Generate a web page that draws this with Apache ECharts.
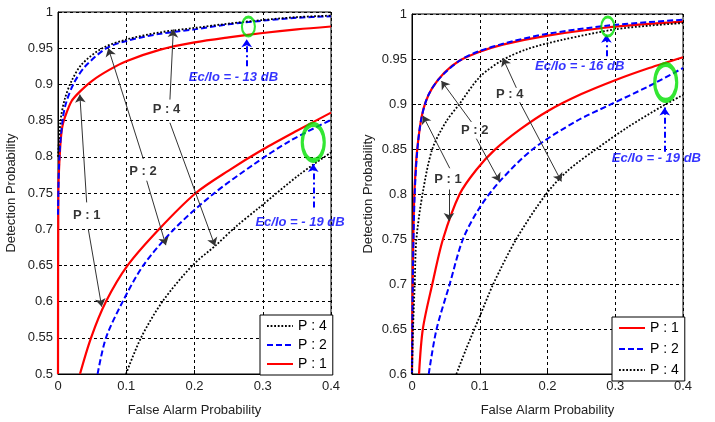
<!DOCTYPE html>
<html>
<head>
<meta charset="utf-8">
<script src="https://cdn.jsdelivr.net/npm/echarts@6/dist/echarts.min.js"></script>
<style>
  html, body { margin: 0; padding: 0; background: #fff; }
  #chart { width: 715px; height: 422px; }
</style>
</head>
<body>
<div id="chart"></div>
<script>
// left panel: Ec/Io = -13 dB (upper) and -19 dB (lower)
var redL13 = [[0,0.5],[0.0005,0.75],[0.003,0.81],[0.006,0.84],[0.0103,0.855],[0.02,0.877],[0.032,0.89],[0.05,0.905],[0.075,0.92],[0.1,0.932],[0.15,0.948],[0.2,0.958],[0.25,0.965],[0.3,0.971],[0.35,0.976],[0.4,0.98]];
var blueL13 = [[0,0.72],[0.002,0.8],[0.0069,0.852],[0.012,0.875],[0.0234,0.902],[0.04,0.925],[0.071,0.95],[0.1,0.96],[0.15,0.97],[0.2,0.976],[0.25,0.983],[0.3,0.988],[0.35,0.992],[0.4,0.994]];
var blackL13 = [[0,0.8],[0.004,0.852],[0.01,0.88],[0.02,0.905],[0.035,0.928],[0.065,0.95],[0.1,0.962],[0.15,0.972],[0.2,0.978],[0.25,0.984],[0.3,0.989],[0.35,0.993],[0.4,0.995]];
var redL19 = [[0.0322,0.5],[0.0484,0.55],[0.0703,0.6],[0.102,0.65],[0.148,0.7],[0.202,0.75],[0.25,0.781],[0.3,0.81],[0.35,0.836],[0.4,0.861]];
var blueL19 = [[0.058,0.5],[0.0703,0.55],[0.0948,0.6],[0.125,0.65],[0.17,0.7],[0.2266,0.748],[0.286,0.789],[0.34,0.822],[0.4,0.851]];
var blackL19 = [[0.0996,0.5],[0.1216,0.55],[0.153,0.6],[0.197,0.65],[0.2315,0.678],[0.26,0.703],[0.295,0.73],[0.3546,0.776],[0.4,0.806]];

// right panel: Ec/Io = -16 dB (upper) and -19 dB (lower)
var redR16 = [[0,0.6],[0.001,0.7],[0.003,0.79],[0.006,0.835],[0.0089,0.858],[0.014,0.885],[0.02,0.902],[0.03,0.918],[0.048,0.935],[0.07,0.948],[0.1,0.958],[0.134,0.966],[0.2,0.976],[0.287,0.985],[0.35,0.989],[0.4,0.9915]];
var blueR16 = [[0,0.6],[0.0015,0.72],[0.004,0.8],[0.008,0.85],[0.0139,0.884],[0.0236,0.909],[0.04,0.928],[0.07,0.948],[0.1,0.959],[0.15,0.97],[0.2,0.978],[0.287,0.987],[0.35,0.991],[0.4,0.9937]];
var blackR16 = [[0,0.6],[0.0015,0.649],[0.004,0.7],[0.0065,0.75],[0.0162,0.803],[0.03,0.85],[0.05,0.88],[0.07,0.9],[0.1,0.93],[0.134,0.949],[0.17,0.961],[0.22,0.971],[0.3,0.983],[0.35,0.987],[0.4,0.99]];
var redR19 = [[0.0104,0.6],[0.016,0.65],[0.03,0.7],[0.0458,0.75],[0.0704,0.8],[0.095,0.827],[0.122,0.849],[0.16,0.872],[0.2,0.892],[0.25,0.911],[0.3017,0.927],[0.35,0.94],[0.4,0.952]];
var blueR19 = [[0.0247,0.6],[0.036,0.649],[0.0557,0.7],[0.0753,0.75],[0.1,0.785],[0.1294,0.814],[0.1786,0.85],[0.2427,0.881],[0.2918,0.899],[0.35,0.92],[0.4,0.94]];
var blackR19 = [[0.0655,0.6],[0.08,0.628],[0.1,0.664],[0.12,0.7],[0.154,0.75],[0.198,0.8],[0.23,0.826],[0.272,0.85],[0.32,0.875],[0.3705,0.898],[0.4,0.91]];

// annotations (data coords)
var pLabelsL = [[0.159,0.865,'P : 4'],[0.1245,0.78,'P : 2'],[0.042,0.719,'P : 1']];
var pArrowsL = [[0.164,0.879,0.169,0.976],[0.164,0.847,0.23,0.677],[0.125,0.797,0.0737,0.95],[0.13,0.767,0.158,0.678],[0.042,0.737,0.032,0.886],[0.0444,0.7,0.064,0.593]];
var ecLabelsL = [[0.257,0.909,'Ec/Io = - 13 dB'],[0.3546,0.709,'Ec/Io = - 19 dB']];
var ecArrowsL = [[0.2765,0.925,0.2765,0.9625],[0.374,0.73,0.374,0.79]];
var ringsL = [[0.279,0.98,'small'],[0.374,0.82,'big']];

var pLabelsR = [[0.1442,0.911,'P : 4'],[0.0925,0.871,'P : 2'],[0.0531,0.816,'P : 1']];
var pArrowsR = [[0.154,0.918,0.134,0.951],[0.159,0.902,0.2205,0.814],[0.0877,0.88,0.0434,0.9256],[0.095,0.8615,0.1294,0.814],[0.0557,0.8286,0.0162,0.887],[0.0546,0.805,0.0546,0.77]];
var ecLabelsR = [[0.2475,0.942,'Ec/Io = - 16 dB'],[0.3607,0.8396,'Ec/Io = - 19 dB']];
var ecArrowsR = [[0.287,0.953,0.287,0.977],[0.373,0.847,0.373,0.896]];
var ringsR = [[0.289,0.986,'small'],[0.3745,0.924,'big']];

var legendL = ['P : 4', 'P : 2', 'P : 1'];
var legendR = ['P : 1', 'P : 2', 'P : 4'];

var FONT = 'Liberation Sans, Arial, sans-serif';
var styles = {
    'P : 1': { color: '#ff0000', width: 2.2, type: 'solid' },
    'P : 2': { color: '#0000ff', width: 2, type: [6, 3] },
    'P : 4': { color: '#000000', width: 1.8, type: [1.8, 1.8] }
};

function curve(name, data, idx) {
    return {
        name: name, type: 'line', xAxisIndex: idx, yAxisIndex: idx,
        data: data, symbol: 'none', smooth: 0.3,
        color: styles[name].color, lineStyle: styles[name], z: 3, silent: true
    };
}

function textSeries(labels, idx, color, italic) {
    return {
        type: 'scatter', xAxisIndex: idx, yAxisIndex: idx, silent: true, z: 6,
        symbolSize: 1, itemStyle: { color: 'transparent' },
        data: labels.map(function(l) { return { value: [l[0], l[1]], name: l[2] }; }),
        label: {
            show: true, position: 'inside', formatter: '{b}', color: color,
            fontFamily: FONT, fontSize: 13, fontWeight: 'bold',
            fontStyle: italic ? 'italic' : 'normal'
        }
    };
}

function arrowSeries(arrows, idx, lineStyle) {
    return {
        type: 'scatter', xAxisIndex: idx, yAxisIndex: idx, silent: true, z: 5, data: [],
        markLine: {
            silent: true, symbol: ['none', 'arrow'], symbolSize: 8,
            label: { show: false }, lineStyle: lineStyle,
            data: arrows.map(function(a) { return [{ coord: [a[0], a[1]] }, { coord: [a[2], a[3]] }]; })
        }
    };
}

function ringSeries(rings, idx) {
    return {
        type: 'scatter', xAxisIndex: idx, yAxisIndex: idx, silent: true, z: 7,
        data: rings.map(function(r) {
            var big = r[2] === 'big';
            return {
                value: [r[0], r[1]],
                symbolSize: big ? [22, 36] : [13, 19],
                itemStyle: { color: 'transparent', borderColor: '#00e000', borderWidth: big ? 4 : 2.5 }
            };
        })
    };
}

function xAxis(idx) {
    return {
        gridIndex: idx, type: 'value', min: 0, max: 0.4, interval: 0.1,
        name: 'False Alarm Probability', nameLocation: 'middle', nameGap: 30,
        nameTextStyle: { color: '#222', fontFamily: FONT, fontSize: 13 },
        axisLine: { show: true, lineStyle: { color: '#000' } },
        axisTick: { show: true, inside: true, length: 4, lineStyle: { color: '#000' } },
        axisLabel: { color: '#222', fontFamily: FONT, fontSize: 13, margin: 6 },
        splitLine: { show: true, lineStyle: { color: '#000', type: [3, 3], width: 1 } }
    };
}

function yAxis(idx, min, gap) {
    return {
        gridIndex: idx, type: 'value', min: min, max: 1, interval: 0.05,
        name: 'Detection Probability', nameLocation: 'middle', nameGap: gap,
        nameTextStyle: { color: '#222', fontFamily: FONT, fontSize: 13 },
        axisLine: { show: true, lineStyle: { color: '#000' } },
        axisTick: { show: true, inside: true, length: 4, lineStyle: { color: '#000' } },
        axisLabel: { color: '#222', fontFamily: FONT, fontSize: 13, margin: 5 },
        splitLine: { show: true, lineStyle: { color: '#000', type: [3, 3], width: 1 } }
    };
}

function legend(data, pos) {
    return {
        data: data, orient: 'vertical', left: pos.left, top: pos.top, selectedMode: false,
        backgroundColor: '#fff', borderColor: '#000', borderWidth: 1,
        padding: [4, 6, 4, 6], itemGap: pos.gap, itemWidth: 26, itemHeight: 12,
        itemStyle: { opacity: 0 },
        textStyle: { color: '#000', fontFamily: FONT, fontSize: 14 }
    };
}

var blackArrow = { color: '#333', width: 1, type: 'solid' };
var blueArrow = { color: '#0000ff', width: 2, type: [6, 3, 2, 3] };

var chart = echarts.init(document.getElementById('chart'));
chart.setOption({
    animation: false,
    backgroundColor: '#fff',
    grid: [
        { left: 58, right: 384, top: 12, bottom: 46, show: true, borderColor: '#000', borderWidth: 1 },
        { left: 412, right: 32, top: 14, bottom: 44, show: true, borderColor: '#000', borderWidth: 1 }
    ],
    xAxis: [xAxis(0), xAxis(1)],
    yAxis: [yAxis(0, 0.5, 40), yAxis(1, 0.6, 37)],
    legend: [legend(legendL, { left: 260, top: 315, gap: 5 }), legend(legendR, { left: 612, top: 317, gap: 7 })],
    series: [
        curve('P : 1', redL13, 0), curve('P : 2', blueL13, 0), curve('P : 4', blackL13, 0),
        curve('P : 1', redL19, 0), curve('P : 2', blueL19, 0), curve('P : 4', blackL19, 0),
        curve('P : 1', redR16, 1), curve('P : 2', blueR16, 1), curve('P : 4', blackR16, 1),
        curve('P : 1', redR19, 1), curve('P : 2', blueR19, 1), curve('P : 4', blackR19, 1),
        arrowSeries(pArrowsL, 0, blackArrow), arrowSeries(ecArrowsL, 0, blueArrow),
        arrowSeries(pArrowsR, 1, blackArrow), arrowSeries(ecArrowsR, 1, blueArrow),
        textSeries(pLabelsL, 0, '#000', false), textSeries(ecLabelsL, 0, '#0000ff', true),
        textSeries(pLabelsR, 1, '#000', false), textSeries(ecLabelsR, 1, '#0000ff', true),
        ringSeries(ringsL, 0), ringSeries(ringsR, 1)
    ]
});
</script>
</body>
</html>
